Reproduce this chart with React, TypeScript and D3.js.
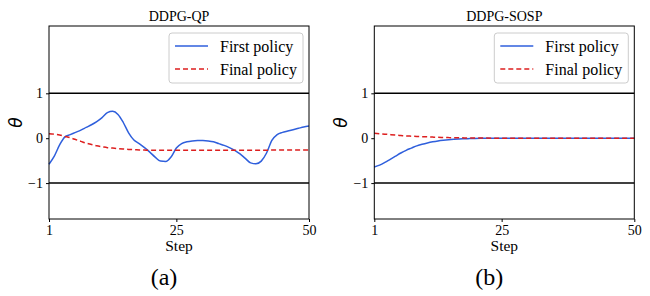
import React, { useEffect, useRef } from 'react';
import * as d3 from 'd3';

const steps = d3.range(1, 51);

const qpFirst = [
  -0.58, -0.40, -0.15, 0.03, 0.08, 0.13, 0.18, 0.24, 0.30, 0.37,
  0.46, 0.57, 0.60, 0.53, 0.35, 0.12, -0.04, -0.12, -0.21, -0.31,
  -0.42, -0.51, -0.52, -0.42, -0.22, -0.12, -0.08, -0.06, -0.05, -0.05,
  -0.06, -0.08, -0.12, -0.16, -0.21, -0.27, -0.35, -0.45, -0.55, -0.57,
  -0.51, -0.33, -0.05, 0.08, 0.13, 0.16, 0.19, 0.22, 0.25, 0.27,
];
const qpFinal = [
  0.10, 0.09, 0.07, 0.04, 0.01, -0.03, -0.07, -0.11, -0.14, -0.17,
  -0.19, -0.21, -0.22, -0.23, -0.24, -0.25, -0.255, -0.26, -0.265, -0.27,
  -0.27, -0.27, -0.27, -0.27, -0.27, -0.27, -0.27, -0.27, -0.27, -0.27,
  -0.27, -0.27, -0.27, -0.27, -0.27, -0.27, -0.27, -0.27, -0.27, -0.27,
  -0.268, -0.266, -0.265, -0.264, -0.263, -0.262, -0.261, -0.26, -0.26, -0.26,
];
const sospFirst = [
  -0.64, -0.60, -0.54, -0.47, -0.40, -0.33, -0.27, -0.22, -0.17, -0.135,
  -0.105, -0.08, -0.06, -0.045, -0.033, -0.024, -0.017, -0.012, -0.008, -0.005,
  -0.003, -0.002, -0.001, -0.001, 0, 0, 0, 0, 0, 0,
  0, 0, 0, 0, 0, 0, 0, 0, 0, 0,
  0, 0, 0, 0, 0, 0, 0, 0, 0, 0,
];
const sospFinal = [
  0.11, 0.10, 0.09, 0.08, 0.07, 0.06, 0.05, 0.045, 0.04, 0.035,
  0.03, 0.025, 0.02, 0.017, 0.014, 0.011, 0.009, 0.007, 0.005, 0.004,
  0.003, 0.002, 0.001, 0, 0, 0, 0, 0, 0, 0,
  0, 0, 0, 0, 0, 0, 0, 0, 0, 0,
  0, 0, 0, 0, 0, 0, 0, 0, 0, 0,
];

const titles = ['DDPG-QP', 'DDPG-SOSP'];
const captions = ['(a)', '(b)'];
const legendLabels = ['First policy', 'Final policy'];
const xTicks = [1, 25, 50];
const yTicks = [-1, 0, 1];

const BLUE = '#2f5fdc';
const RED = '#dd1f1f';
const FONT = '"Liberation Serif", "Times New Roman", serif';

const App: React.FC = () => {
  const svgRef = useRef<SVGSVGElement>(null);

  useEffect(() => {
    if (!svgRef.current) return;
    const svg = d3.select(svgRef.current);
    svg.selectAll('*').remove();

    const panels = [
      { left: 49, first: qpFirst, final: qpFinal },
      { left: 374.3, first: sospFirst, final: sospFinal },
    ];
    const plotW = 260;
    const top = 26;
    const bottom = 219;

    panels.forEach((p, i) => {
      const x = d3.scaleLinear().domain([1, 50]).range([p.left, p.left + plotW]);
      const y = d3.scaleLinear().domain([-1.8, 2.5]).range([bottom, top]);
      const g = svg.append('g').style('font-family', FONT);

      // threshold lines at +-1
      [-1, 1].forEach(v => {
        g.append('line')
          .attr('x1', x(1)).attr('x2', x(50))
          .attr('y1', y(v)).attr('y2', y(v))
          .attr('stroke', '#000').attr('stroke-width', 1.5);
      });

      const line = d3.line<number>()
        .x((_, j) => x(steps[j]))
        .y(d => y(d))
        .curve(d3.curveMonotoneX);

      g.append('path').datum(p.first)
        .attr('fill', 'none').attr('stroke', BLUE).attr('stroke-width', 1.5)
        .attr('d', line);
      g.append('path').datum(p.final)
        .attr('fill', 'none').attr('stroke', RED).attr('stroke-width', 1.5)
        .attr('stroke-dasharray', '5,3')
        .attr('d', line);

      // frame
      g.append('rect')
        .attr('x', p.left).attr('y', top)
        .attr('width', plotW).attr('height', bottom - top)
        .attr('fill', 'none').attr('stroke', '#000').attr('stroke-width', 1);

      const xAxis = g.append('g')
        .attr('transform', `translate(0, ${bottom})`)
        .call(d3.axisBottom(x).tickValues(xTicks).tickSize(3).tickPadding(3).tickFormat(d3.format('d')));
      const yAxis = g.append('g')
        .attr('transform', `translate(${p.left}, 0)`)
        .call(d3.axisLeft(y).tickValues(yTicks).tickSize(3).tickPadding(3)
          .tickFormat(d => (d as number) < 0 ? `\u2212${Math.abs(d as number)}` : `${d}`));
      [xAxis, yAxis].forEach(a => {
        a.select('.domain').remove();
        a.selectAll('text').style('font-family', FONT).style('font-size', '14px').attr('fill', '#000');
      });

      g.append('text')
        .attr('x', p.left + plotW / 2).attr('y', 20.5)
        .attr('text-anchor', 'middle').style('font-size', '14px')
        .text(titles[i]);

      g.append('text')
        .attr('x', p.left + plotW / 2).attr('y', 251)
        .attr('text-anchor', 'middle').style('font-size', '15.5px')
        .text('Step');

      g.append('text')
        .attr('x', p.left + plotW / 2 - 15).attr('y', 285)
        .attr('text-anchor', 'middle').style('font-size', '24px')
        .text(captions[i]);

      g.append('text')
        .attr('transform', `translate(${p.left - 33}, ${(top + bottom) / 2}) rotate(-90)`)
        .attr('text-anchor', 'middle').attr('dy', '0.36em')
        .style('font-family', '"DejaVu Sans", sans-serif')
        .style('font-size', '17px').style('font-style', 'italic')
        .text('θ');

      // legend
      const lg = g.append('g').attr('transform', `translate(${p.left + 120}, 33)`);
      lg.append('rect')
        .attr('width', 134).attr('height', 50).attr('rx', 3)
        .attr('fill', '#fff').attr('fill-opacity', 0.8)
        .attr('stroke', '#cccccc').attr('stroke-width', 1);
      legendLabels.forEach((lab, k) => {
        const ly = 13 + k * 23;
        lg.append('line')
          .attr('x1', 6).attr('x2', 39).attr('y1', ly).attr('y2', ly)
          .attr('stroke', k === 0 ? BLUE : RED).attr('stroke-width', 1.5)
          .attr('stroke-dasharray', k === 0 ? null : '5,3');
        lg.append('text')
          .attr('x', 51).attr('y', ly).attr('dy', '0.35em')
          .style('font-size', '16px')
          .text(lab);
      });
    });
  }, []);

  return (
    <svg
      ref={svgRef}
      width={650}
      height={296}
      style={{ position: 'absolute', left: 0, top: 0, background: '#fff' }}
    />
  );
};

export default App;
